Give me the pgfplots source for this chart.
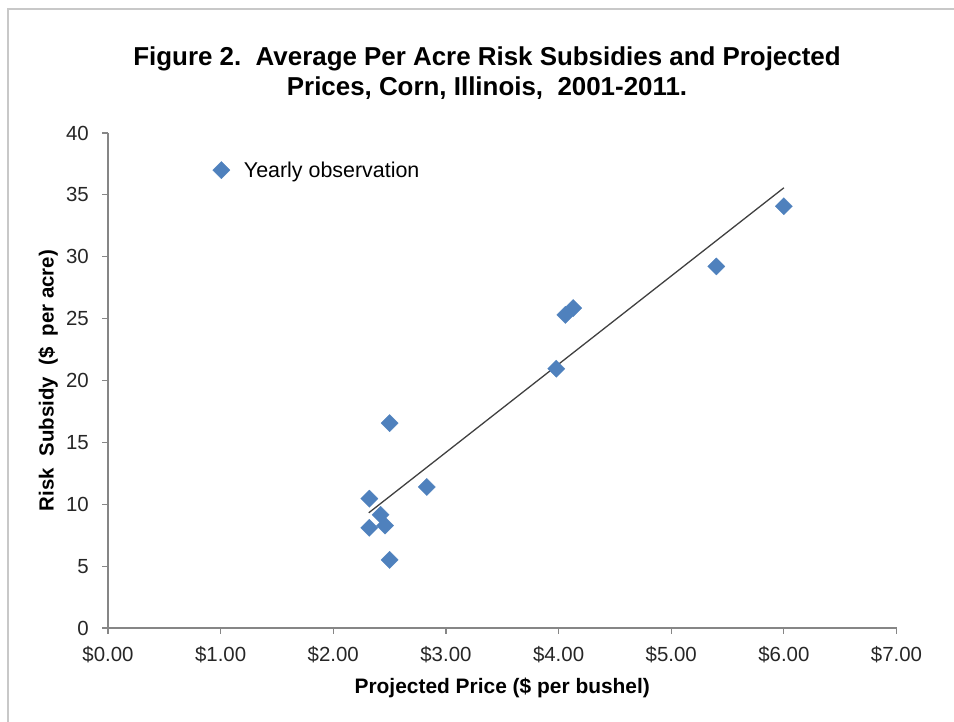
\documentclass[border=0pt]{standalone}
\usepackage{fontspec}
\setmainfont{Liberation Sans}
\usepackage{pgfplots}
\pgfplotsset{compat=1.18}
\definecolor{excelblue}{HTML}{4F81BD}
\definecolor{axisgray}{HTML}{868686}
\definecolor{bordergray}{HTML}{C8C8C8}
\definecolor{trendgray}{HTML}{404040}
\begin{document}
\begin{tikzpicture}[x=1bp,y=1bp]
\useasboundingbox (0,0) rectangle (954,722);
\draw[bordergray, line width=2bp] (7.5,-5) -- (7.5,712.5) -- (960,712.5);
\begin{axis}[
  at={(108bp,94bp)}, anchor=south west,
  scale only axis, width=788.5bp, height=495bp,
  xmin=0, xmax=7, ymin=0, ymax=40,
  axis x line*=bottom, axis y line*=left,
  axis line style={axisgray, line width=1.2bp, -},
  xtick={0,1,2,3,4,5,6,7}, ytick={0,5,10,15,20,25,30,35,40},
  xticklabels={\$0.00,\$1.00,\$2.00,\$3.00,\$4.00,\$5.00,\$6.00,\$7.00},
  tick align=outside, major tick length=6bp,
  tick style={axisgray, line width=1.2bp},
  ticklabel style={font=\fontsize{20.5}{24}\selectfont, text=black!85},
  xticklabel style={anchor=base, inner sep=0pt, yshift=-28bp},
  yticklabel style={anchor=east, inner sep=0pt, xshift=-13bp},
  /pgf/number format/assume math mode=true,
  title={Figure 2.\ \ Average Per Acre Risk Subsidies and Projected\\Prices, Corn, Illinois,\ \ 2001-2011.},
  title style={font=\bfseries\fontsize{26}{30}\selectfont, align=center,
    at={(axis description cs:0.4807,1)}, anchor=south, inner sep=0pt, yshift=27bp},
  xlabel={Projected Price (\$ per bushel)},
  xlabel style={font=\bfseries\fontsize{21}{25}\selectfont,
    at={(axis description cs:0.5,-0.1333)}, anchor=base, inner sep=0pt},
  ylabel={Risk\ \ Subsidy\ \ (\$\ \ per acre)},
  ylabel style={font=\bfseries\fontsize{20.5}{25}\selectfont, rotate=0,
    at={(axis description cs:-0.0691,0.5)}, anchor=base, inner sep=0pt},
  legend style={draw=none, fill=none, inner sep=0pt, anchor=west,
    at={(axis description cs:0.1325,0.925)}, column sep=12bp,
    font=\fontsize{21.5}{25}\selectfont},
  legend cell align=left,
]
\addplot[only marks, mark=square*, mark size=6.1bp,
  mark options={rotate=45, fill=excelblue, draw=excelblue, line width=0.3bp}]
  table[row sep=\\] {
  x y\\
  2.32 10.45\\
  2.32 8.10\\
  2.42 9.15\\
  2.46 8.28\\
  2.50 16.55\\
  2.50 5.50\\
  2.83 11.40\\
  3.98 20.95\\
  4.06 25.30\\
  4.13 25.85\\
  5.40 29.22\\
  6.00 34.08\\
  };
\addlegendentry{Yearly observation}
\addplot[forget plot, no marks, trendgray, line width=1.3bp]
  coordinates {(2.315,9.31) (6.0,35.57)};
\end{axis}
\end{tikzpicture}
\end{document}
